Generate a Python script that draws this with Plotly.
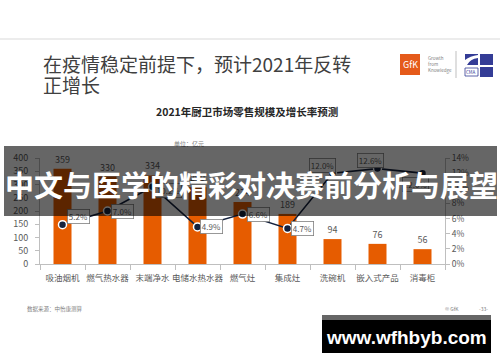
import plotly.graph_objects as go

# ---------------- data ----------------
categories = ["吸油烟机", "燃气热水器", "末端净水", "电储水热水器", "燃气灶",
              "集成灶", "洗碗机", "嵌入式产品", "消毒柜"]
sales = [359, 330, 334, 290, 234, 189, 94, 76, 56]            # 亿元
growth = [0.052, 0.070, 0.102, 0.049, 0.066, 0.047, 0.120, 0.126, 0.120]
left_ticks = [0, 50, 100, 150, 200, 250, 300, 350, 400]
right_ticks = [0.0, 0.02, 0.04, 0.06, 0.08, 0.10, 0.12, 0.14]

# label box offsets (dx, dy in screen pixels, dy>0 = down) -- style only
label_offsets = [(16, -8), (15, 0), (16, 4), (14, 0), (16, 0), (15, 0),
                 (-10, -8), (-7, -8), (-7, 11)]

W, H = 500, 362
ML, MR, MT, MB = 40, 55, 158, 98
PW, PH = W - ML - MR, H - MT - MB


def px(x):
    return (x - ML) / PW


def py(y):
    return (H - MB - y) / PH


FONT = "Noto Sans CJK SC, Noto Sans, sans-serif"
GRAY = "#595959"
AX = "#BFBFBF"
NAVY = "#14213D"
ORANGE = "#E65C00"

fig = go.Figure()

fig.add_trace(go.Bar(
    x=categories, y=sales, marker=dict(color=ORANGE, line=dict(width=0)),
    width=0.4, text=[str(v) for v in sales], textposition="outside",
    textfont=dict(size=9, color=GRAY, family=FONT), cliponaxis=False,
    showlegend=False, hoverinfo="skip"))

fig.add_trace(go.Scatter(
    x=categories, y=growth, yaxis="y2", mode="lines+markers",
    line=dict(color=NAVY, width=1.6),
    marker=dict(size=8, color=NAVY, line=dict(color="white", width=1.5)),
    cliponaxis=False, showlegend=False, hoverinfo="skip"))

shapes = []
# top separator line
shapes.append(dict(type="line", xref="paper", yref="paper", x0=px(0), x1=px(500),
                   y0=py(39), y1=py(39), line=dict(color="#D9D9D9", width=1)))
# GfK logo
shapes.append(dict(type="rect", xref="paper", yref="paper", x0=px(400), x1=px(420),
                   y0=py(75), y1=py(54), fillcolor="#E55A1A", line=dict(width=0)))
shapes.append(dict(type="line", xref="paper", yref="paper", x0=px(456), x1=px(456),
                   y0=py(78), y1=py(51), line=dict(color="#BFBFBF", width=1)))
# CMA logo
BLUE = "#343C96"
shapes.append(dict(type="rect", xref="paper", yref="paper", x0=px(465), x1=px(478),
                   y0=py(65), y1=py(54), fillcolor=BLUE, line=dict(width=0)))
shapes.append(dict(type="path", xref="paper", yref="paper",
                   path=f"M {px(465)} {py(65)} L {px(465)} {py(60)} Q {px(470)} {py(56)} {px(478)} {py(55)} L {px(478)} {py(58)} Q {px(470)} {py(59)} {px(467)} {py(65)} Z",
                   fillcolor="white", line=dict(width=0)))
shapes.append(dict(type="rect", xref="paper", yref="paper", x0=px(480), x1=px(493),
                   y0=py(65), y1=py(54), fillcolor=BLUE, line=dict(width=0)))
shapes.append(dict(type="rect", xref="paper", yref="paper", x0=px(480), x1=px(493),
                   y0=py(77), y1=py(67), fillcolor=BLUE, line=dict(width=0)))
shapes.append(dict(type="rect", xref="paper", yref="paper", x0=px(465), x1=px(478),
                   y0=py(76), y1=py(68), fillcolor="white", line=dict(color=BLUE, width=0.8)))
# watermark box
shapes.append(dict(type="rect", xref="paper", yref="paper", x0=px(322), x1=px(491),
                   y0=py(320), y1=py(315), fillcolor="#666666", line=dict(width=0), layer="above"))
shapes.append(dict(type="rect", xref="paper", yref="paper", x0=px(322), x1=px(491),
                   y0=py(353), y1=py(320), fillcolor="#000000", line=dict(width=0), layer="above"))

ann = []

# growth labels (boxed), anchored on the data points
for i, (g, (dx, dy)) in enumerate(zip(growth, label_offsets)):
    ann.append(dict(x=categories[i], y=g, xref="x", yref="y2",
                    text=f"{g * 100:.1f}%", showarrow=False,
                    xanchor="center", yanchor="middle", xshift=dx, yshift=-dy,
                    font=dict(size=8, color=GRAY, family=FONT),
                    bgcolor="white", bordercolor="#7F7F7F", borderwidth=0.8,
                    borderpad=1))


def text(x, y, t, size, color, xanchor="left", bold=False, family=FONT):
    ann.append(dict(x=px(x), y=py(y), xref="paper", yref="paper", text=t,
                    showarrow=False, xanchor=xanchor, yanchor="middle",
                    font=dict(size=size, color=color, family=family,
                              weight="bold" if bold else "normal")))


text(41, 63, "在疫情稳定前提下，预计2021年反转", 19, "#404040")
text(41, 84, "正增长", 19, "#404040")
text(247, 111, "2021年厨卫市场零售规模及增长率预测", 10.5, "#262626", "center", True)
text(189, 143, "单位：亿元", 6, "#7F7F7F", "center")
text(410, 64, "GfK", 9, "white", "center")
text(426, 58, "Growth", 4.5, "#7F7F7F")
text(426, 64, "from", 4.5, "#7F7F7F")
text(426, 70, "Knowledge", 4.5, "#7F7F7F")
text(471.5, 72, "CMA", 4.5, BLUE, "center")
text(25, 309, "数据来源：中怡康测算", 5.5, "#7F7F7F")
text(452, 308, "© GfK", 5, "#7F7F7F", "center")
text(483, 308, "-33-", 5, "#7F7F7F", "center")

# overlay banner (drawn after the labels so it dims them)
ann.append(dict(x=px(250.5), y=py(181), xref="paper", yref="paper", text=" ",
                showarrow=False, xanchor="center", yanchor="middle",
                width=493, height=70, bgcolor="rgba(0,0,0,0.6)", borderpad=0,
                borderwidth=0, font=dict(size=10)))
text(251, 184, "中文与医学的精彩对决赛前分析与展望", 29, "white", "center", True)
text(406, 337, "www.wfhbyb.com", 19, "white", "center", True, "Liberation Sans, Arial, sans-serif")

fig.update_layout(
    width=W, height=H, margin=dict(l=ML, r=MR, t=MT, b=MB, autoexpand=False),
    paper_bgcolor="white", plot_bgcolor="white",
    font=dict(family=FONT, color=GRAY),
    bargap=0.6,
    xaxis=dict(range=[-0.5, 8.5], showline=True, linecolor=AX, linewidth=1,
               ticks="outside", tickson="boundaries", ticklen=5, tickcolor=AX,
               tickangle=0, automargin=False, ticklabelstandoff=6,
               tickfont=dict(size=8.5, color=GRAY), showgrid=False, zeroline=False),
    yaxis=dict(range=[0, 400], tickvals=left_ticks, showline=True, linecolor=AX,
               ticks="outside", ticklen=4, tickcolor=AX, showgrid=False, automargin=False,
               ticklabelstandoff=5,
               zeroline=False, tickfont=dict(size=9, color=GRAY)),
    yaxis2=dict(range=[0, 0.14], tickvals=right_ticks, tickformat=".0%",
                overlaying="y", side="right", showline=True, linecolor=AX,
                ticks="outside", ticklen=4, tickcolor=AX, showgrid=False, automargin=False,
                zeroline=False, tickfont=dict(size=8.5, color=GRAY)),
    shapes=shapes, annotations=ann,
)

fig.write_html("out.html", config={"displayModeBar": False},
               post_script="document.body.style.margin='0px';")
